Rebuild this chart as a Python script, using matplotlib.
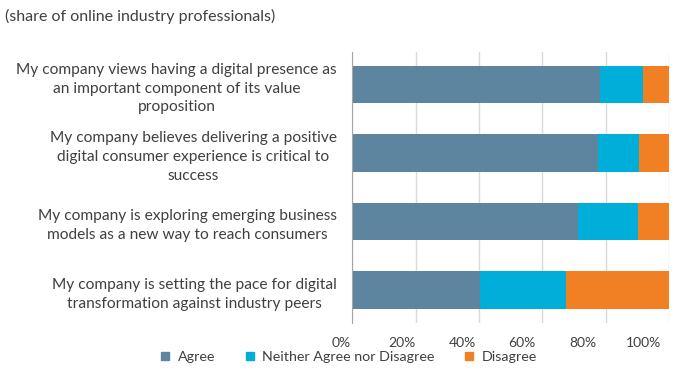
import matplotlib.pyplot as plt
from matplotlib.lines import Line2D
from matplotlib.transforms import ScaledTranslation

plt.rcParams['font.family'] = ['Lato', 'DejaVu Sans']

#====== data =========#
statements = [
    "My company views having a digital presence as\nan important component of its value\nproposition",
    "My company believes delivering a positive\ndigital consumer experience is critical to\nsuccess",
    "My company is exploring emerging business\nmodels as a new way to reach consumers",
    "My company is setting the pace for digital\ntransformation against industry peers",
]
agree = [78.2, 77.4, 71.1, 40.2]
neither = [13.5, 13.1, 19.0, 27.2]
disagree = [8.3, 9.5, 9.9, 32.6]
series_names = ["Agree", "Neither Agree nor Disagree", "Disagree"]
xticks = [0, 20, 40, 60, 80, 100]
xtick_labels = ["0%", "20%", "40%", "60%", "80%", "100%"]

colors = ["#5D859F", "#00AEDA", "#F18024"]
txt = "#404040"

fig = plt.figure(figsize=(7, 3.77), dpi=100)
ax = fig.add_axes([0.503, 0.143, 0.453, 0.72])

y = list(range(len(statements)))[::-1]
left2 = [a + n for a, n in zip(agree, neither)]
ax.barh(y, agree, height=0.55, color=colors[0], zorder=3)
ax.barh(y, neither, left=agree, height=0.55, color=colors[1], zorder=3)
ax.barh(y, disagree, left=left2, height=0.55, color=colors[2], zorder=3)

ax.set_xlim(0, 100)
ax.set_ylim(-0.48, 3.48)
ax.set_xticks(xticks)
ax.set_xticklabels(xtick_labels, fontsize=10, color=txt)
ax.set_yticks(y)
ax.set_yticklabels(statements, fontsize=11.2, color=txt, ma='center', linespacing=1.45)
ax.tick_params(axis='both', length=0)
ax.tick_params(axis='y', pad=11)
ax.tick_params(axis='x', pad=10)
ax.grid(axis='x', color='#D9D9D9', linewidth=1, zorder=0)
for s in ['top', 'right', 'bottom']:
    ax.spines[s].set_visible(False)
ax.spines['left'].set_color('#A6A6A6')
ax.spines['left'].set_zorder(4)

# tick labels in the original sit a bit left of their gridlines
for i, lab in enumerate(ax.get_xticklabels()):
    dx = -(11 + 3 * i) / 100.0
    lab.set_transform(lab.get_transform() + ScaledTranslation(dx, 0, fig.dpi_scale_trans))

fig.text(0.007, 0.955, "(share of online industry professionals)", fontsize=11.5,
         color=txt, ha='left', va='center')

handles = [Line2D([], [], marker='s', linestyle='none', markersize=6, color=c) for c in colors]
fig.legend(handles, series_names, loc='center left', bbox_to_anchor=(0.229, 0.052),
           ncol=3, frameon=False, fontsize=10.3, handlelength=0.7, handletextpad=0.5,
           columnspacing=2.1, labelcolor=txt, borderaxespad=0, borderpad=0)

plt.savefig("out.png", dpi=100)
